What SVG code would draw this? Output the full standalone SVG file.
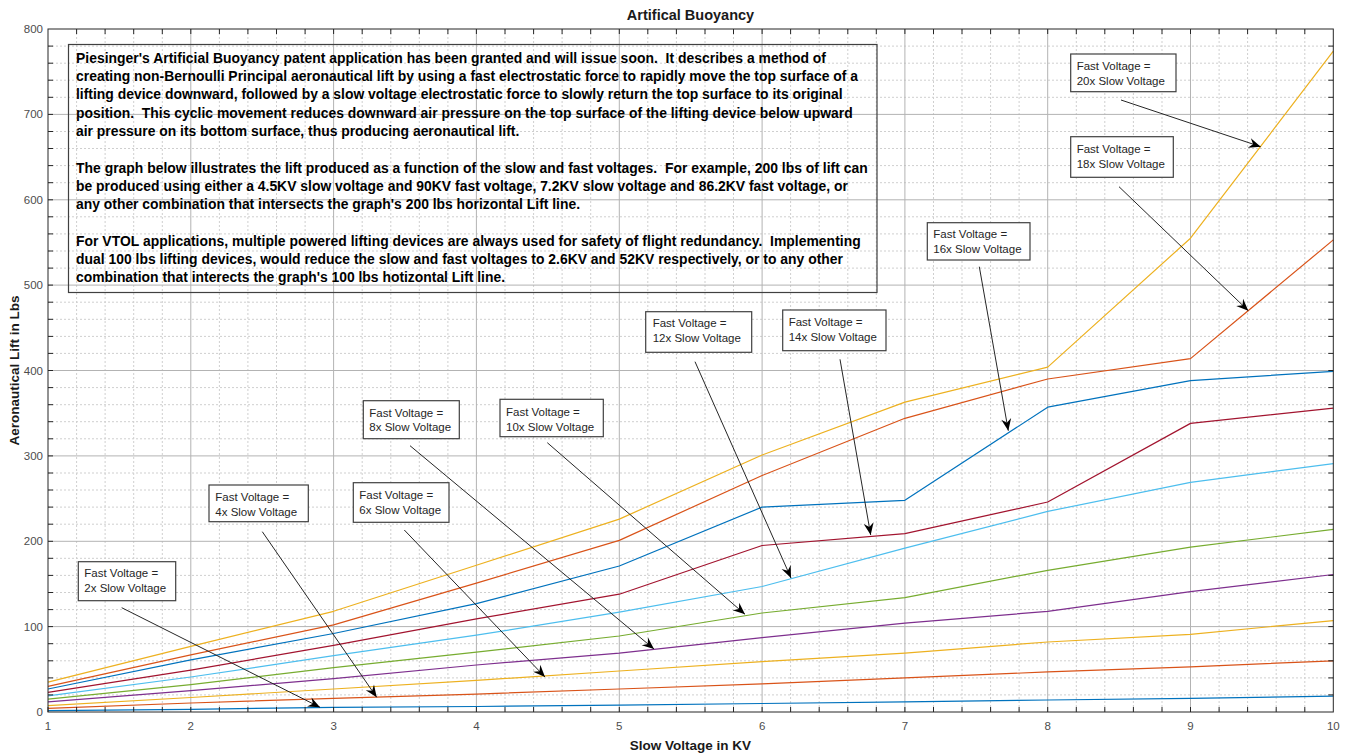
<svg xmlns="http://www.w3.org/2000/svg" width="1347" height="753" viewBox="0 0 1347 753">
<style>
.minor{stroke:#cfcfcf;stroke-width:1;stroke-dasharray:2 2;fill:none}
.major{stroke:#b3b3b3;stroke-width:1;fill:none}
.tick{stroke:#262626;stroke-width:1;fill:none}
.tl{font-family:"Liberation Sans",Arial,sans-serif;font-size:11.5px;fill:#4d4d4d}
.ttl{font-family:"Liberation Sans",Arial,sans-serif;font-weight:bold;fill:#1a1a1a}
.curve{fill:none;stroke-width:1.2;stroke-linejoin:round}
.big{font-family:"Liberation Sans",Arial,sans-serif;font-weight:bold;font-size:13.9px;fill:#000;white-space:pre}
.abox{fill:#fff;stroke:#404040;stroke-width:1.2}
.atext{font-family:"Liberation Sans",Arial,sans-serif;font-size:11.5px;fill:#262626}
.arrow{stroke:#262626;stroke-width:1;fill:none;marker-end:url(#ah)}
</style>
<defs>
<marker id="ah" markerUnits="userSpaceOnUse" markerWidth="16" markerHeight="14" viewBox="-13 -7 14 14" refX="0" refY="0" orient="auto">
<path d="M0,0 L-12,-5 L-8,0 L-12,5 Z" fill="#000"/>
</marker>
</defs>
<rect x="0" y="0" width="1347" height="753" fill="#fff"/>
<g id="grid">
<path class="minor" d="M76.6 29V712M105.1 29V712M133.7 29V712M162.3 29V712M219.4 29V712M247.9 29V712M276.5 29V712M305.1 29V712M362.2 29V712M390.8 29V712M419.3 29V712M447.9 29V712M505 29V712M533.6 29V712M562.1 29V712M590.7 29V712M647.8 29V712M676.4 29V712M705 29V712M733.5 29V712M790.6 29V712M819.2 29V712M847.8 29V712M876.3 29V712M933.5 29V712M962 29V712M990.6 29V712M1019.1 29V712M1076.3 29V712M1104.8 29V712M1133.4 29V712M1162 29V712M1219.1 29V712M1247.6 29V712M1276.2 29V712M1304.8 29V712"/>
<path class="minor" d="M48 694.9H1333.3M48 677.9H1333.3M48 660.8H1333.3M48 643.7H1333.3M48 609.6H1333.3M48 592.5H1333.3M48 575.4H1333.3M48 558.3H1333.3M48 524.2H1333.3M48 507.1H1333.3M48 490H1333.3M48 473H1333.3M48 438.8H1333.3M48 421.7H1333.3M48 404.7H1333.3M48 387.6H1333.3M48 353.4H1333.3M48 336.4H1333.3M48 319.3H1333.3M48 302.2H1333.3M48 268.1H1333.3M48 251H1333.3M48 233.9H1333.3M48 216.8H1333.3M48 182.7H1333.3M48 165.6H1333.3M48 148.5H1333.3M48 131.5H1333.3M48 97.3H1333.3M48 80.2H1333.3M48 63.2H1333.3M48 46.1H1333.3"/>
<path class="major" d="M190.8 29V712M333.6 29V712M476.4 29V712M619.3 29V712M762.1 29V712M904.9 29V712M1047.7 29V712M1190.5 29V712M48 626.6H1333.3M48 541.3H1333.3M48 455.9H1333.3M48 370.5H1333.3M48 285.1H1333.3M48 199.8H1333.3M48 114.4H1333.3"/>
</g>
<g id="curves">
<polyline class="curve" stroke="#0072BD" points="48,710.6 190.8,709.3 333.6,707.3 476.4,706.5 619.3,705.2 762.1,703.5 904.9,701.8 1047.7,700 1190.5,698.3 1333.3,696.2"/>
<polyline class="curve" stroke="#D95319" points="48,708.3 190.8,703 333.6,698.3 476.4,694.1 619.3,689 762.1,683.8 904.9,677.9 1047.7,671.9 1190.5,666.8 1333.3,660.8"/>
<polyline class="curve" stroke="#EDB120" points="48,705.6 190.8,697.5 333.6,689 476.4,680.4 619.3,671 762.1,661.6 904.9,653.1 1047.7,642 1190.5,634.3 1333.3,620.6"/>
<polyline class="curve" stroke="#7E2F8E" points="48,701.8 190.8,690.7 333.6,678.7 476.4,665 619.3,653.1 762.1,637.7 904.9,623.2 1047.7,611.3 1190.5,591.6 1333.3,574.5"/>
<polyline class="curve" stroke="#77AC30" points="48,699.2 190.8,684.7 333.6,667.6 476.4,652.2 619.3,636 762.1,613 904.9,597.6 1047.7,570.3 1190.5,547.2 1333.3,529.3"/>
<polyline class="curve" stroke="#4DBEEE" points="48,695.8 190.8,677 333.6,655.7 476.4,635.2 619.3,612.1 762.1,586.5 904.9,548.1 1047.7,511.4 1190.5,482.3 1333.3,463.6"/>
<polyline class="curve" stroke="#A2142F" points="48,692.4 190.8,670.2 333.6,645.4 476.4,618.9 619.3,594.2 762.1,545.5 904.9,533.6 1047.7,502 1190.5,423.4 1333.3,408.1"/>
<polyline class="curve" stroke="#0072BD" points="48,689 190.8,659.9 333.6,633.5 476.4,603.6 619.3,566 762.1,507.1 904.9,500.3 1047.7,407.2 1190.5,380.7 1333.3,371.3"/>
<polyline class="curve" stroke="#D95319" points="48,686.4 190.8,654.8 333.6,624.9 476.4,583.1 619.3,540.4 762.1,475.5 904.9,418.3 1047.7,379 1190.5,358.6 1333.3,239.9"/>
<polyline class="curve" stroke="#EDB120" points="48,682.1 190.8,646.3 333.6,611.3 476.4,565.2 619.3,519.1 762.1,455 904.9,402.1 1047.7,367.1 1190.5,238.2 1333.3,51.2"/>
</g>
<g id="axes">
<rect x="48" y="29" width="1285.3" height="683" fill="none" stroke="#262626" stroke-width="1"/>
<path class="tick" d="M48 712v-5M76.6 712v-5M105.1 712v-5M133.7 712v-5M162.3 712v-5M190.8 712v-5M219.4 712v-5M247.9 712v-5M276.5 712v-5M305.1 712v-5M333.6 712v-5M362.2 712v-5M390.8 712v-5M419.3 712v-5M447.9 712v-5M476.4 712v-5M505 712v-5M533.6 712v-5M562.1 712v-5M590.7 712v-5M619.3 712v-5M647.8 712v-5M676.4 712v-5M705 712v-5M733.5 712v-5M762.1 712v-5M790.6 712v-5M819.2 712v-5M847.8 712v-5M876.3 712v-5M904.9 712v-5M933.5 712v-5M962 712v-5M990.6 712v-5M1019.1 712v-5M1047.7 712v-5M1076.3 712v-5M1104.8 712v-5M1133.4 712v-5M1162 712v-5M1190.5 712v-5M1219.1 712v-5M1247.6 712v-5M1276.2 712v-5M1304.8 712v-5"/>
<path class="tick" d="M76.6 29v5M105.1 29v5M133.7 29v5M162.3 29v5M190.8 29v5M219.4 29v5M247.9 29v5M276.5 29v5M305.1 29v5M333.6 29v5M362.2 29v5M390.8 29v5M419.3 29v5M447.9 29v5M476.4 29v5M505 29v5M533.6 29v5M562.1 29v5M590.7 29v5M619.3 29v5M647.8 29v5M676.4 29v5M705 29v5M733.5 29v5M762.1 29v5M790.6 29v5M819.2 29v5M847.8 29v5M876.3 29v5M904.9 29v5M933.5 29v5M962 29v5M990.6 29v5M1019.1 29v5M1047.7 29v5M1076.3 29v5M1104.8 29v5M1133.4 29v5M1162 29v5M1190.5 29v5M1219.1 29v5M1247.6 29v5M1276.2 29v5M1304.8 29v5"/>
<path class="tick" d="M48 694.9h5M48 677.9h5M48 660.8h5M48 643.7h5M48 626.6h5M48 609.6h5M48 592.5h5M48 575.4h5M48 558.3h5M48 541.3h5M48 524.2h5M48 507.1h5M48 490h5M48 473h5M48 455.9h5M48 438.8h5M48 421.7h5M48 404.7h5M48 387.6h5M48 370.5h5M48 353.4h5M48 336.4h5M48 319.3h5M48 302.2h5M48 285.1h5M48 268.1h5M48 251h5M48 233.9h5M48 216.8h5M48 199.8h5M48 182.7h5M48 165.6h5M48 148.5h5M48 131.5h5M48 114.4h5M48 97.3h5M48 80.2h5M48 63.2h5M48 46.1h5"/>
<path class="tick" d="M1333.3 694.9h-5M1333.3 677.9h-5M1333.3 660.8h-5M1333.3 643.7h-5M1333.3 626.6h-5M1333.3 609.6h-5M1333.3 592.5h-5M1333.3 575.4h-5M1333.3 558.3h-5M1333.3 541.3h-5M1333.3 524.2h-5M1333.3 507.1h-5M1333.3 490h-5M1333.3 473h-5M1333.3 455.9h-5M1333.3 438.8h-5M1333.3 421.7h-5M1333.3 404.7h-5M1333.3 387.6h-5M1333.3 370.5h-5M1333.3 353.4h-5M1333.3 336.4h-5M1333.3 319.3h-5M1333.3 302.2h-5M1333.3 285.1h-5M1333.3 268.1h-5M1333.3 251h-5M1333.3 233.9h-5M1333.3 216.8h-5M1333.3 199.8h-5M1333.3 182.7h-5M1333.3 165.6h-5M1333.3 148.5h-5M1333.3 131.5h-5M1333.3 114.4h-5M1333.3 97.3h-5M1333.3 80.2h-5M1333.3 63.2h-5M1333.3 46.1h-5"/>
<g class="tl" text-anchor="end">
<text x="43" y="716">0</text>
<text x="43" y="630.6">100</text>
<text x="43" y="545.3">200</text>
<text x="43" y="459.9">300</text>
<text x="43" y="374.5">400</text>
<text x="43" y="289.1">500</text>
<text x="43" y="203.8">600</text>
<text x="43" y="118.4">700</text>
<text x="43" y="33">800</text>
</g>
<g class="tl" text-anchor="middle">
<text x="48" y="730">1</text>
<text x="190.8" y="730">2</text>
<text x="333.6" y="730">3</text>
<text x="476.4" y="730">4</text>
<text x="619.3" y="730">5</text>
<text x="762.1" y="730">6</text>
<text x="904.9" y="730">7</text>
<text x="1047.7" y="730">8</text>
<text x="1190.5" y="730">9</text>
<text x="1333.3" y="730">10</text>
</g>
<text class="ttl" x="690.5" y="20" font-size="14.5" text-anchor="middle">Artifical Buoyancy</text>
<text class="ttl" x="690.5" y="749.5" font-size="13.5" text-anchor="middle">Slow Voltage in KV</text>
<text class="ttl" x="0" y="0" font-size="13.5" text-anchor="middle" transform="translate(18.5,370.5) rotate(-90)">Aeronautical Lift in Lbs</text>
</g>
<g id="description">
<rect x="68.5" y="44.5" width="808.5" height="248" fill="none" stroke="#404040" stroke-width="1.2"/>
<text class="big" x="76" y="62.5" textLength="750">Piesinger's Artificial Buoyancy patent application has been granted and will issue soon.  It describes a method of</text>
<text class="big" x="76" y="80.8" textLength="782">creating non-Bernoulli Principal aeronautical lift by using a fast electrostatic force to rapidly move the top surface of a</text>
<text class="big" x="76" y="99.2" textLength="766.7">lifting device downward, followed by a slow voltage electrostatic force to slowly return the top surface to its original</text>
<text class="big" x="76" y="117.5" textLength="776.7">position.  This cyclic movement reduces downward air pressure on the top surface of the lifting device below upward</text>
<text class="big" x="76" y="135.8" textLength="443.3">air pressure on its bottom surface, thus producing aeronautical lift.</text>
<text class="big" x="76" y="172.5" textLength="791.7">The graph below illustrates the lift produced as a function of the slow and fast voltages.  For example, 200 lbs of lift can</text>
<text class="big" x="76" y="190.8" textLength="772">be produced using either a 4.5KV slow voltage and 90KV fast voltage, 7.2KV slow voltage and 86.2KV fast voltage, or</text>
<text class="big" x="76" y="209.1" textLength="504">any other combination that intersects the graph's 200 lbs horizontal Lift line.</text>
<text class="big" x="76" y="245.8" textLength="784.7">For VTOL applications, multiple powered lifting devices are always used for safety of flight redundancy.  Implementing</text>
<text class="big" x="76" y="264.1" textLength="767">dual 100 lbs lifting devices, would reduce the slow and fast voltages to 2.6KV and 52KV respectively, or to any other</text>
<text class="big" x="76" y="282.4" textLength="429">combination that interects the graph's 100 lbs hotizontal Lift line.</text>
</g>
<g id="connectors">
<line class="arrow" x1="121.7" y1="607.7" x2="320" y2="707.3"/>
<line class="arrow" x1="262.3" y1="531.7" x2="376.7" y2="697.3"/>
<line class="arrow" x1="404.3" y1="530" x2="545" y2="677"/>
<line class="arrow" x1="410" y1="445.7" x2="654" y2="649"/>
<line class="arrow" x1="547.3" y1="442.7" x2="745" y2="614.3"/>
<line class="arrow" x1="695" y1="361.7" x2="791" y2="578"/>
<line class="arrow" x1="840" y1="359.3" x2="870.7" y2="535"/>
<line class="arrow" x1="979.3" y1="266.7" x2="1008.3" y2="430.7"/>
<line class="arrow" x1="1119" y1="186.7" x2="1248.3" y2="310.7"/>
<line class="arrow" x1="1121" y1="100" x2="1260.7" y2="146.7"/>
</g>
<g id="label-2x">
<rect class="abox" x="78.3" y="561.7" width="97.4" height="39"/>
<text class="atext" x="84.3" y="577.3">Fast Voltage =</text>
<text class="atext" x="84.3" y="592">2x Slow Voltage</text>
</g>
<g id="label-4x">
<rect class="abox" x="209" y="485" width="99.3" height="36.7"/>
<text class="atext" x="215.3" y="500.7">Fast Voltage =</text>
<text class="atext" x="215.3" y="515.7">4x Slow Voltage</text>
</g>
<g id="label-6x">
<rect class="abox" x="353.3" y="482.7" width="95.7" height="39.6"/>
<text class="atext" x="359.3" y="499.3">Fast Voltage =</text>
<text class="atext" x="359.3" y="514">6x Slow Voltage</text>
</g>
<g id="label-8x">
<rect class="abox" x="363.3" y="400.7" width="96" height="38"/>
<text class="atext" x="369.3" y="416.7">Fast Voltage =</text>
<text class="atext" x="369.3" y="431.3">8x Slow Voltage</text>
</g>
<g id="label-10x">
<rect class="abox" x="500" y="399.3" width="103.3" height="37.4"/>
<text class="atext" x="506" y="416">Fast Voltage =</text>
<text class="atext" x="506" y="430.7">10x Slow Voltage</text>
</g>
<g id="label-12x">
<rect class="abox" x="645.7" y="311.7" width="106" height="40.6"/>
<text class="atext" x="652.7" y="327.3">Fast Voltage =</text>
<text class="atext" x="652.7" y="342.3">12x Slow Voltage</text>
</g>
<g id="label-14x">
<rect class="abox" x="782.7" y="310" width="103.3" height="40.7"/>
<text class="atext" x="788.7" y="326">Fast Voltage =</text>
<text class="atext" x="788.7" y="340.7">14x Slow Voltage</text>
</g>
<g id="label-16x">
<rect class="abox" x="927.3" y="222.7" width="102.7" height="37.3"/>
<text class="atext" x="933.3" y="238.3">Fast Voltage =</text>
<text class="atext" x="933.3" y="253.3">16x Slow Voltage</text>
</g>
<g id="label-18x">
<rect class="abox" x="1070.7" y="136.7" width="102.6" height="40.6"/>
<text class="atext" x="1076.7" y="152.7">Fast Voltage =</text>
<text class="atext" x="1076.7" y="168">18x Slow Voltage</text>
</g>
<g id="label-20x">
<rect class="abox" x="1070.7" y="54" width="105.3" height="37.7"/>
<text class="atext" x="1076.7" y="70">Fast Voltage =</text>
<text class="atext" x="1076.7" y="85">20x Slow Voltage</text>
</g>
</svg>
